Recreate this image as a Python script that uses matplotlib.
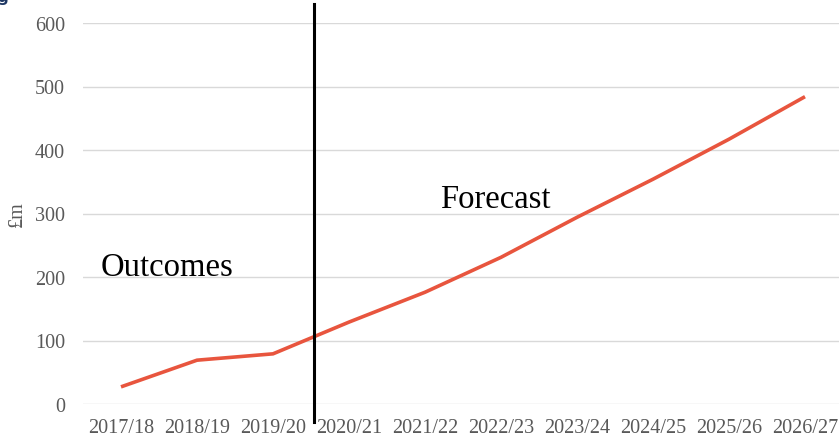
import matplotlib
matplotlib.use("Agg")
import matplotlib.pyplot as plt

years = ["2017/18", "2018/19", "2019/20", "2020/21", "2021/22", "2022/23",
         "2023/24", "2024/25", "2025/26", "2026/27"]
values = [27, 69, 79, 129, 176, 231, 294, 354, 417, 484]
yticks = [0, 100, 200, 300, 400, 500, 600]
divider_pos = 2.54

plt.rcParams['font.family'] = ['Liberation Serif', 'DejaVu Serif']

fig = plt.figure(figsize=(8.39, 4.39), dpi=100)
ax = fig.add_axes([83/839, 1 - 405/439, 760/839, (405 - 24)/439])

x = list(range(len(years)))
ax.plot(x, values, color='#E8553E', linewidth=2.6, solid_capstyle='butt', zorder=3)

ax.set_xlim(-0.5, len(years) - 0.5)
ax.set_ylim(0, 600)
ax.set_yticks(yticks)
ax.set_yticklabels([str(v) for v in yticks])
ax.set_xticks(x)
ax.set_xticklabels(years)
ax.tick_params(axis='both', length=0, colors='#595959', labelsize=14.5)
ax.tick_params(axis='y', pad=13)
ax.tick_params(axis='x', pad=10)
ax.grid(axis='y', color='#d9d9d9', linewidth=1.0)
ax.set_axisbelow(True)
for s in ax.spines.values():
    s.set_visible(False)

ax.plot([divider_pos, divider_pos], [-28, 630], color='black', linewidth=2.2,
        clip_on=False, zorder=4)

ax.text(0.6, 216, "Outcomes", fontsize=23.5, color='black', ha='center', va='center')
ax.text(4.92, 323, "Forecast", fontsize=23.5, color='black', ha='center', va='center')

fig.text(17/839, 1 - 214/439, "£m", rotation=90, fontsize=14.5, color='#595959',
         ha='center', va='center')
fig.text(-0.003, 1.005, "g", fontsize=11, color='#1F3864', fontweight='bold',
         ha='left', va='center', family=['DejaVu Sans'])

fig.savefig("out.png", dpi=100)
